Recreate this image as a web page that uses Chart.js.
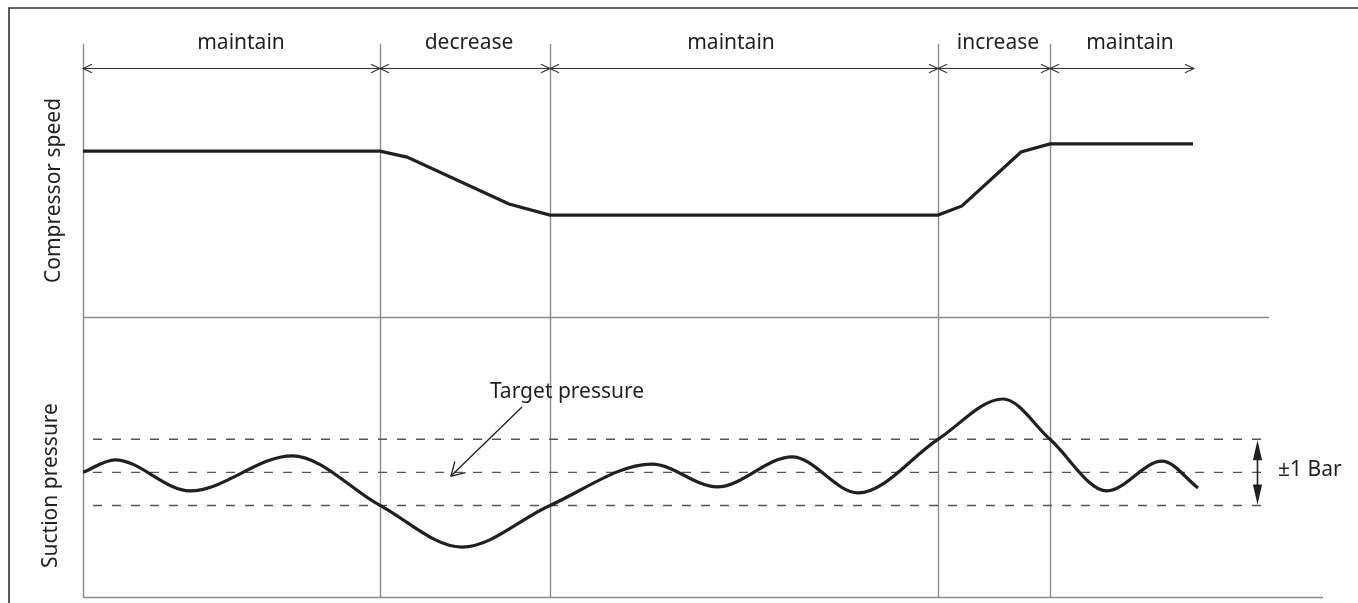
<!DOCTYPE html>
<html>
<head>
<meta charset="utf-8">
<script src="https://cdn.jsdelivr.net/npm/chart.js@4"></script>
<style>
  html, body { margin: 0; padding: 0; background: #fff; }
  #wrap { width: 1358px; height: 603px; position: relative; }
</style>
</head>
<body>
<div id="wrap"><canvas id="c" width="1358" height="603"></canvas></div>
<script>
// Time axis (s) and phases of the compressor control cycle
const phaseBounds  = [0, 29.7, 46.7, 85.5, 96.7, 111.1];
const phaseLabels  = ['maintain', 'decrease', 'maintain', 'increase', 'maintain'];
const phaseLabelAt = [15.8, 38.6, 64.8, 91.5, 104.7];

// Compressor speed (% of maximum)
const speedTime  = [0, 29.7, 32.4, 42.6, 46.7, 85.5, 87.9, 93.8, 96.7, 111.0];
const speedValue = [57.8, 57.8, 55.7, 39.4, 35.5, 35.5, 38.7, 57.5, 60.3, 60.3];

// Suction pressure, deviation from the target (bar)
const pressureTime  = [0, 3.2, 10.7, 20.9, 29.7, 37.9, 46.7, 56.9, 63.4, 70.9, 77.5, 85.5, 92.0, 96.7, 102.4, 107.9, 111.5];
const pressureValue = [0, 0.38, -0.56, 0.50, -1.0, -2.26, -1.0, 0.25, -0.44, 0.47, -0.62, 1.0, 2.22, 1.0, -0.56, 0.34, -0.47];

// Target pressure and the allowed band around it (bar)
const bandLevels = [1, 0, -1];
const bandEnd = 118.3;
const bandLabel = '±1 Bar';
const targetLabel = 'Target pressure';
const speedTitle = 'Compressor speed';
const pressureTitle = 'Suction pressure';

const INK = '#231f20';
const GRID = '#8a8a8a';
const FONT = '21px "Noto Sans", "DejaVu Sans", sans-serif';

function pts(xs, ys) { return xs.map((x, i) => ({ x, y: ys[i] })); }

function openHead(ctx, x, y, ang, len, half) {
  ctx.beginPath();
  ctx.moveTo(x - len * Math.cos(ang - half), y - len * Math.sin(ang - half));
  ctx.lineTo(x, y);
  ctx.lineTo(x - len * Math.cos(ang + half), y - len * Math.sin(ang + half));
  ctx.stroke();
}
function filledHead(ctx, x, y, dir, len, w) {
  // dir: +1 pointing down, -1 pointing up
  ctx.beginPath();
  ctx.moveTo(x, y);
  ctx.lineTo(x - w, y - dir * len);
  ctx.lineTo(x + w, y - dir * len);
  ctx.closePath();
  ctx.fill();
}

const decor = {
  id: 'decor',
  beforeDraw(chart) {
    const ctx = chart.ctx;
    ctx.save();
    ctx.fillStyle = '#fff';
    ctx.fillRect(0, 0, chart.width, chart.height);
    ctx.restore();
  },
  beforeDatasetsDraw(chart) {
    const { ctx, scales } = chart;
    const x = scales.x, ys = scales.ySpeed, yp = scales.yPress;
    const top = ys.getPixelForValue(95.1);
    const bottom = yp.getPixelForValue(yp.min);
    ctx.save();
    // outer frame
    ctx.strokeStyle = '#333';
    ctx.lineWidth = 1.6;
    ctx.beginPath();
    ctx.moveTo(9, chart.height);
    ctx.lineTo(9, 8);
    ctx.lineTo(chart.width, 8);
    ctx.stroke();

    // left axis and phase dividers
    ctx.strokeStyle = GRID;
    ctx.lineWidth = 1.4;
    ctx.beginPath();
    phaseBounds.slice(0, -1).forEach(t => {
      const px = Math.round(x.getPixelForValue(t)) + 0.5;
      ctx.moveTo(px, top);
      ctx.lineTo(px, bottom);
    });
    ctx.stroke();

    // panel separator and bottom baseline
    const sep = Math.round(ys.getPixelForValue(0)) + 0.5;
    ctx.beginPath();
    ctx.moveTo(x.getPixelForValue(0), sep);
    ctx.lineTo(x.getPixelForValue(118.6), sep);
    const base = Math.round(bottom) - 0.5;
    ctx.moveTo(x.getPixelForValue(0), base);
    ctx.lineTo(x.getPixelForValue(124), base);
    ctx.stroke();
    ctx.restore();
  },
  afterDatasetsDraw(chart) {
    const { ctx, scales } = chart;
    const x = scales.x, ys = scales.ySpeed, yp = scales.yPress;
    ctx.save();

    // phase arrows
    const ay = Math.round(ys.getPixelForValue(86.8)) + 0.5;
    ctx.strokeStyle = '#333';
    ctx.lineWidth = 1.1;
    ctx.beginPath();
    ctx.moveTo(x.getPixelForValue(phaseBounds[0]), ay);
    ctx.lineTo(x.getPixelForValue(phaseBounds[phaseBounds.length - 1]), ay);
    ctx.stroke();
    for (let i = 0; i < phaseLabels.length; i++) {
      const x0 = x.getPixelForValue(phaseBounds[i]);
      const x1 = x.getPixelForValue(phaseBounds[i + 1]);
      openHead(ctx, x0, ay, Math.PI, 10, 0.45);
      openHead(ctx, x1, ay, 0, 10, 0.45);
    }

    // phase labels
    ctx.fillStyle = INK;
    ctx.font = FONT;
    ctx.textAlign = 'center';
    ctx.textBaseline = 'alphabetic';
    const ly = ys.getPixelForValue(93.4);
    phaseLabels.forEach((s, i) => ctx.fillText(s, x.getPixelForValue(phaseLabelAt[i]), ly));

    // band arrow and label
    const bx = Math.round(x.getPixelForValue(117.4)) + 0.5;
    const yTop = yp.getPixelForValue(bandLevels[0]);
    const yBot = yp.getPixelForValue(bandLevels[2]);
    ctx.strokeStyle = INK;
    ctx.lineWidth = 1.6;
    ctx.beginPath();
    ctx.moveTo(bx, yTop + 12);
    ctx.lineTo(bx, yBot - 12);
    ctx.stroke();
    filledHead(ctx, bx, yTop + 1, -1, 20, 4.6);
    filledHead(ctx, bx, yBot - 1, 1, 20, 4.6);
    ctx.textAlign = 'left';
    ctx.fillText(bandLabel, x.getPixelForValue(119.5), yp.getPixelForValue(-0.11));

    // target pressure callout
    ctx.textAlign = 'center';
    ctx.fillText(targetLabel, x.getPixelForValue(48.4), yp.getPixelForValue(2.25));
    const sx = x.getPixelForValue(43.9), sy = yp.getPixelForValue(1.98);
    const tx = x.getPixelForValue(36.8), ty = yp.getPixelForValue(-0.11);
    ctx.lineWidth = 1.3;
    ctx.beginPath();
    ctx.moveTo(sx, sy);
    ctx.lineTo(tx, ty);
    ctx.stroke();
    openHead(ctx, tx, ty, Math.atan2(ty - sy, tx - sx), 15, 0.54);

    // panel titles
    ctx.textAlign = 'center';
    ctx.save();
    ctx.translate(60, (ys.top + ys.bottom) / 2 + 17);
    ctx.rotate(-Math.PI / 2);
    ctx.fillText(speedTitle, 0, 0);
    ctx.restore();
    ctx.save();
    ctx.translate(57, (yp.top + yp.bottom) / 2 + 28);
    ctx.rotate(-Math.PI / 2);
    ctx.fillText(pressureTitle, 0, 0);
    ctx.restore();

    ctx.restore();
  }
};

const bandSets = bandLevels.map(l => ({
  data: [{ x: 0, y: l }, { x: bandEnd, y: l }],
  yAxisID: 'yPress',
  borderColor: '#555',
  borderWidth: 1.4,
  borderDash: [9, 10],
  borderDashOffset: 9,
  pointRadius: 0,
  tension: 0,
  order: 2
}));

new Chart(document.getElementById('c'), {
  type: 'line',
  data: {
    datasets: [
      {
        label: speedTitle,
        data: pts(speedTime, speedValue),
        yAxisID: 'ySpeed',
        borderColor: INK,
        borderWidth: 3.2,
        pointRadius: 0,
        tension: 0,
        borderJoinStyle: 'miter',
        order: 1
      },
      {
        label: pressureTitle,
        data: pts(pressureTime, pressureValue),
        yAxisID: 'yPress',
        borderColor: INK,
        borderWidth: 3.2,
        pointRadius: 0,
        cubicInterpolationMode: 'monotone',
        order: 1
      },
      ...bandSets
    ]
  },
  options: {
    responsive: false,
    devicePixelRatio: 1,
    animation: false,
    events: [],
    layout: { padding: { left: 83, right: 35, top: 30, bottom: 5 } },
    plugins: { legend: { display: false }, tooltip: { enabled: false } },
    elements: { line: { borderCapStyle: 'butt' } },
    scales: {
      x: { type: 'linear', min: 0, max: 124, display: false },
      // the later scale in a left-hand stack is placed on top
      yPress: { type: 'linear', position: 'left', stack: 'panels', stackWeight: 281, min: -3.8, max: 4.7, display: false },
      ySpeed: { type: 'linear', position: 'left', stack: 'panels', stackWeight: 287, min: 0, max: 100, display: false }
    }
  },
  plugins: [decor]
});
</script>
</body>
</html>
